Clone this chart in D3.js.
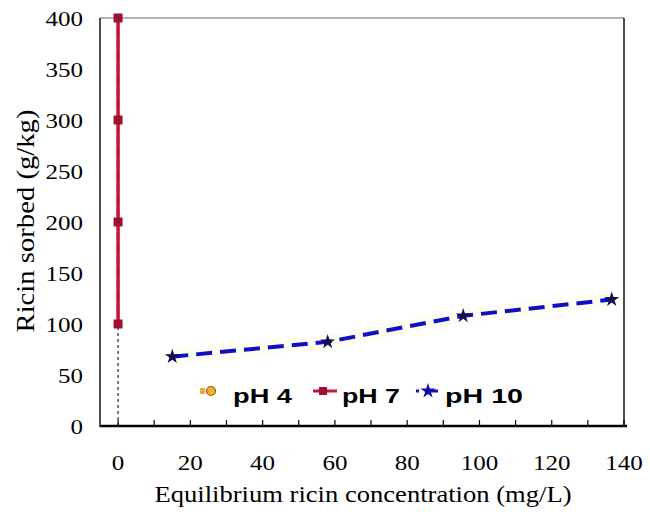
<!DOCTYPE html>
<html><head><meta charset="utf-8">
<script src="https://cdn.jsdelivr.net/npm/d3@7"></script>
<style>body{margin:0;background:#fff}</style>
</head><body>
<svg id="c" width="650" height="517"></svg>
<script>
const xTicks = [0,20,40,60,80,100,120,140];
const yTicks = [0,50,100,150,200,250,300,350,400];
const pH4 = [{x:0,y:100},{x:0,y:200},{x:0,y:300},{x:0,y:400}];
const pH7 = [{x:0,y:100},{x:0,y:200},{x:0,y:300},{x:0,y:400}];
const pH10 = [{x:15,y:68},{x:58,y:82.5},{x:95.5,y:108},{x:136.6,y:124}];
const dropLine = [{x:0,y:0},{x:0,y:100}];
const legendLabels = ["pH 4","pH 7","pH 10"];

const svg = d3.select("#c");
const x = d3.scaleLinear().domain([-5,140]).range([100,624]);
const y = d3.scaleLinear().domain([0,400]).range([426,18]);
const serif = "Liberation Serif, Times New Roman, serif";

// frame
svg.append("line").attr("x1",100).attr("x2",624).attr("y1",18).attr("y2",18).attr("stroke","#666").attr("stroke-width",1);
svg.append("line").attr("x1",100).attr("x2",627).attr("y1",426).attr("y2",426).attr("stroke","#000").attr("stroke-width",2.5);
svg.append("line").attr("x1",100).attr("x2",100).attr("y1",18).attr("y2",427).attr("stroke","#111").attr("stroke-width",1.5);
svg.append("line").attr("x1",624).attr("x2",624).attr("y1",18).attr("y2",427).attr("stroke","#111").attr("stroke-width",1.5);
const minor = d3.range(0,141,10);
svg.selectAll(".mt").data(minor).enter().append("line")
  .attr("x1",d=>x(d)).attr("x2",d=>x(d)).attr("y1",426).attr("y2",420)
  .attr("stroke","#000").attr("stroke-width",1.2);
svg.selectAll(".xl").data(xTicks).enter().append("text")
  .attr("x",d=>x(d)).attr("y",470).attr("text-anchor","middle")
  .attr("font-family",serif).attr("font-size",22)
  .attr("textLength",d=>String(d).length*12.5).attr("lengthAdjust","spacingAndGlyphs").text(d=>d);
svg.selectAll(".yl").data(yTicks).enter().append("text")
  .attr("x",83).attr("y",d=>y(d)+7.5).attr("text-anchor","end")
  .attr("font-family",serif).attr("font-size",22)
  .attr("textLength",d=>String(d).length*12.5).attr("lengthAdjust","spacingAndGlyphs").text(d=>d);
svg.append("text").attr("x",363).attr("y",502).attr("text-anchor","middle")
  .attr("font-family",serif).attr("font-size",23)
  .attr("textLength",417).attr("lengthAdjust","spacingAndGlyphs")
  .text("Equilibrium ricin concentration (mg/L)");
svg.append("text").attr("transform","translate(34,221) rotate(-90)").attr("text-anchor","middle")
  .attr("font-family",serif).attr("font-size",26)
  .attr("textLength",223).attr("lengthAdjust","spacingAndGlyphs")
  .text("Ricin sorbed (g/kg)");

const line = d3.line().x(d=>x(d.x)).y(d=>y(d.y));
// drop line
svg.append("path").attr("d",line(dropLine)).attr("fill","none").attr("stroke","#222")
  .attr("stroke-width",1.2).attr("stroke-dasharray","3,3");
// pH 4
svg.append("path").attr("d",line(pH4)).attr("fill","none").attr("stroke","#f0a830")
  .attr("stroke-width",3).attr("stroke-dasharray","8,4");
// pH 10 faint shadow
svg.append("path").attr("d",line(pH10)).attr("fill","none").attr("stroke","#fefdf2")
  .attr("stroke-width",14);
svg.append("path").attr("d",line(pH10)).attr("fill","none").attr("stroke","#1010c0")
  .attr("stroke-width",4).attr("stroke-dasharray","16,8");
const star = d3.symbol().type(d3.symbolStar).size(70);
svg.selectAll(".st").data(pH10).enter().append("path")
  .attr("transform",d=>`translate(${x(d.x)},${y(d.y)})`).attr("d",star)
  .attr("fill","#101050");
// pH 7
svg.append("path").attr("d",line(pH7)).attr("fill","none").attr("stroke","#c8143c")
  .attr("stroke-width",3.5);
svg.selectAll(".sq").data(pH7).enter().append("rect")
  .attr("x",d=>x(d.x)-4.5).attr("y",d=>y(d.y)-4.5).attr("width",9).attr("height",9)
  .attr("fill","#a01030");

// legend
const lg = svg.append("g");
const my = 391;
lg.append("rect").attr("x",200).attr("y",my-3).attr("width",5).attr("height",6).attr("fill","#f0a830");
lg.append("circle").attr("cx",211).attr("cy",my).attr("r",4.5).attr("fill","#f0b030").attr("stroke","#8a6010").attr("stroke-width",1.2);
lg.append("line").attr("x1",313).attr("x2",337).attr("y1",my).attr("y2",my).attr("stroke","#c8143c").attr("stroke-width",3);
lg.append("rect").attr("x",319).attr("y",my-4).attr("width",8).attr("height",8).attr("fill","#a01030");
lg.append("line").attr("x1",416).attr("x2",419).attr("y1",my).attr("y2",my).attr("stroke","#1010c0").attr("stroke-width",3);
lg.append("path").attr("transform",`translate(428,${my})`).attr("d",star).attr("fill","#1010a0");
lg.append("line").attr("x1",430).attr("x2",438).attr("y1",my).attr("y2",my).attr("stroke","#1010c0").attr("stroke-width",3);
const tx = [233,342,445];
const tl = [59,58,78];
lg.selectAll(".lt").data(legendLabels).enter().append("text")
  .attr("x",(d,i)=>tx[i]).attr("y",403).attr("font-family","Liberation Sans, Arial, sans-serif")
  .attr("font-weight","bold").attr("font-size",21)
  .attr("textLength",(d,i)=>tl[i]).attr("lengthAdjust","spacingAndGlyphs").text(d=>d);
</script>
</body></html>
